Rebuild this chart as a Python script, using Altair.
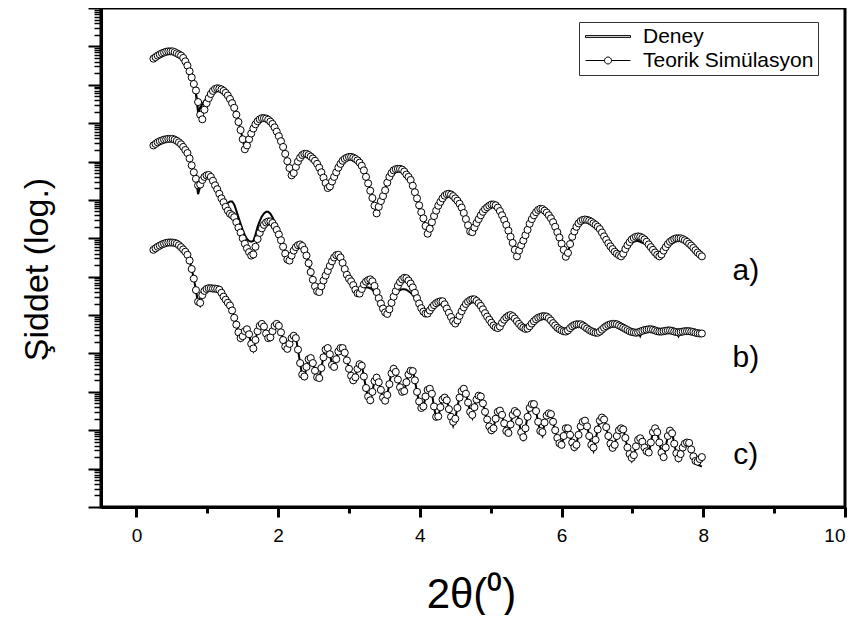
import altair as alt
import pandas as pd

# 2-theta scan grid (degrees), step 0.03
two_theta = [round(0.24 + 0.03 * i, 2) for i in range(259)]

# log10 intensity (arbitrary units, curves offset)
a_sim = [
    11.68, 11.72, 11.76, 11.79, 11.82, 11.84, 11.86, 11.87, 11.87, 11.87,
    11.85, 11.82, 11.79, 11.76, 11.70, 11.61, 11.50, 11.35, 11.19, 11.02,
    10.85, 10.55, 10.22, 10.10, 10.35, 10.52, 10.65, 10.76, 10.84, 10.89,
    10.91, 10.90, 10.88, 10.84, 10.79, 10.72, 10.63, 10.52, 10.40, 10.22,
    10.03, 9.82, 9.58, 9.32, 9.42, 9.58, 9.73, 9.86, 9.97, 10.05,
    10.10, 10.13, 10.13, 10.12, 10.09, 10.04, 9.98, 9.89, 9.78, 9.66,
    9.53, 9.38, 9.20, 9.01, 8.83, 8.64, 8.70, 8.86, 9.00, 9.10,
    9.17, 9.20, 9.20, 9.17, 9.13, 9.08, 9.02, 8.94, 8.84, 8.72,
    8.58, 8.44, 8.31, 8.35, 8.48, 8.60, 8.72, 8.84, 8.94, 9.02,
    9.07, 9.10, 9.12, 9.12, 9.10, 9.07, 9.03, 8.97, 8.89, 8.77,
    8.60, 8.43, 8.24, 8.05, 7.85, 7.65, 7.82, 7.97, 8.10, 8.25,
    8.45, 8.60, 8.70, 8.77, 8.80, 8.81, 8.81, 8.79, 8.74, 8.66,
    8.60, 8.52, 8.37, 8.20, 8.04, 7.86, 7.68, 7.52, 7.32, 7.12,
    7.25, 7.42, 7.58, 7.72, 7.85, 7.95, 8.04, 8.11, 8.15, 8.16,
    8.14, 8.10, 8.04, 7.98, 7.90, 7.80, 7.66, 7.50, 7.34, 7.18,
    7.16, 7.28, 7.40, 7.50, 7.60, 7.69, 7.76, 7.81, 7.85, 7.88,
    7.88, 7.86, 7.80, 7.71, 7.60, 7.48, 7.35, 7.20, 7.04, 6.88,
    6.70, 6.53, 6.68, 6.82, 6.94, 7.08, 7.22, 7.38, 7.50, 7.60,
    7.68, 7.74, 7.77, 7.76, 7.72, 7.67, 7.60, 7.52, 7.42, 7.30,
    7.16, 7.02, 6.86, 6.70, 6.52, 6.62, 6.85, 7.04, 7.18, 7.30,
    7.39, 7.45, 7.48, 7.49, 7.48, 7.46, 7.43, 7.39, 7.35, 7.30,
    7.24, 7.15, 7.05, 6.96, 6.87, 6.79, 6.72, 6.65, 6.60, 6.56,
    6.53, 6.60, 6.72, 6.82, 6.90, 6.97, 7.01, 7.04, 7.05, 7.04,
    7.01, 6.97, 6.91, 6.84, 6.77, 6.70, 6.63, 6.57, 6.53, 6.58,
    6.68, 6.77, 6.85, 6.91, 6.95, 6.98, 7.00, 7.00, 7.00, 6.98,
    6.95, 6.91, 6.86, 6.81, 6.75, 6.69, 6.63, 6.58, 6.53,
]
a_exp = [
    11.68, 11.72, 11.76, 11.79, 11.82, 11.84, 11.86, 11.87, 11.87, 11.87,
    11.85, 11.82, 11.79, 11.76, 11.70, 11.61, 11.50, 11.35, 11.19, 11.02,
    10.75, 10.28, 10.40, 10.50, 10.58, 10.64, 10.70, 10.78, 10.85, 10.89,
    10.91, 10.90, 10.88, 10.84, 10.79, 10.72, 10.63, 10.52, 10.40, 10.22,
    10.03, 9.82, 9.58, 9.32, 9.42, 9.58, 9.73, 9.86, 9.97, 10.05,
    10.10, 10.13, 10.13, 10.12, 10.09, 10.04, 9.98, 9.89, 9.78, 9.66,
    9.53, 9.38, 9.20, 9.01, 8.83, 8.64, 8.70, 8.86, 9.00, 9.10,
    9.17, 9.20, 9.20, 9.17, 9.13, 9.08, 9.02, 8.94, 8.84, 8.72,
    8.58, 8.44, 8.31, 8.35, 8.48, 8.60, 8.72, 8.84, 8.94, 9.02,
    9.07, 9.10, 9.12, 9.12, 9.10, 9.07, 9.03, 8.97, 8.89, 8.77,
    8.60, 8.43, 8.24, 8.05, 7.85, 7.65, 7.82, 7.97, 8.10, 8.25,
    8.45, 8.60, 8.70, 8.77, 8.80, 8.81, 8.81, 8.79, 8.74, 8.66,
    8.60, 8.52, 8.37, 8.20, 8.04, 7.86, 7.68, 7.52, 7.32, 7.12,
    7.25, 7.42, 7.58, 7.72, 7.85, 7.95, 8.04, 8.11, 8.15, 8.16,
    8.14, 8.10, 8.04, 7.98, 7.90, 7.80, 7.66, 7.50, 7.34, 7.18,
    7.16, 7.28, 7.40, 7.50, 7.60, 7.69, 7.76, 7.81, 7.85, 7.88,
    7.88, 7.86, 7.80, 7.71, 7.60, 7.48, 7.35, 7.20, 7.04, 6.88,
    6.70, 6.53, 6.68, 6.82, 6.94, 7.08, 7.22, 7.38, 7.50, 7.60,
    7.68, 7.74, 7.77, 7.76, 7.72, 7.67, 7.60, 7.52, 7.42, 7.30,
    7.16, 7.02, 6.86, 6.70, 6.52, 6.62, 6.85, 7.04, 7.18, 7.30,
    7.39, 7.45, 7.48, 7.49, 7.48, 7.46, 7.43, 7.39, 7.35, 7.30,
    7.24, 7.15, 7.05, 6.96, 6.87, 6.79, 6.72, 6.65, 6.60, 6.56,
    6.53, 6.60, 6.70, 6.78, 6.84, 6.88, 6.91, 6.93, 6.93, 6.91,
    6.88, 6.86, 6.84, 6.80, 6.74, 6.67, 6.61, 6.56, 6.53, 6.58,
    6.68, 6.77, 6.85, 6.91, 6.95, 6.98, 7.00, 7.00, 7.00, 6.98,
    6.95, 6.91, 6.86, 6.81, 6.75, 6.69, 6.63, 6.58, 6.53,
]
b_sim = [
    9.42, 9.46, 9.50, 9.53, 9.55, 9.57, 9.58, 9.59, 9.59, 9.59,
    9.57, 9.54, 9.50, 9.45, 9.38, 9.30, 9.22, 9.08, 8.90, 8.72,
    8.55, 8.38, 8.40, 8.52, 8.60, 8.64, 8.65, 8.60, 8.50, 8.38,
    8.28, 8.16, 8.04, 7.94, 7.82, 7.72, 7.64, 7.60, 7.55, 7.42,
    7.28, 7.15, 7.00, 6.86, 6.74, 6.64, 6.55, 6.58, 6.78, 6.98,
    7.14, 7.26, 7.35, 7.41, 7.44, 7.44, 7.40, 7.32, 7.22, 7.10,
    6.95, 6.78, 6.60, 6.45, 6.42, 6.55, 6.68, 6.77, 6.82, 6.84,
    6.80, 6.70, 6.55, 6.35, 6.12, 5.92, 5.75, 5.62, 5.60, 5.75,
    5.90, 6.03, 6.15, 6.28, 6.40, 6.50, 6.56, 6.57, 6.50, 6.36,
    6.20, 6.05, 5.95, 5.88, 5.78, 5.66, 5.57, 5.56, 5.68, 5.80,
    5.87, 5.91, 5.93, 5.88, 5.76, 5.60, 5.44, 5.30, 5.17, 5.07,
    5.03, 5.15, 5.32, 5.48, 5.62, 5.76, 5.86, 5.93, 5.97, 5.96,
    5.90, 5.82, 5.72, 5.58, 5.44, 5.30, 5.18, 5.09, 5.04, 5.04,
    5.12, 5.20, 5.26, 5.31, 5.34, 5.36, 5.36, 5.28, 5.17, 5.06,
    4.95, 4.84, 4.78, 4.86, 4.98, 5.10, 5.20, 5.29, 5.35, 5.39,
    5.41, 5.41, 5.37, 5.31, 5.24, 5.15, 5.05, 4.96, 4.88, 4.80,
    4.73, 4.68, 4.66, 4.70, 4.80, 4.88, 4.94, 4.98, 5.00, 4.97,
    4.91, 4.84, 4.77, 4.71, 4.67, 4.64, 4.65, 4.71, 4.78, 4.84,
    4.89, 4.93, 4.95, 4.97, 4.97, 4.96, 4.92, 4.86, 4.79, 4.73,
    4.67, 4.63, 4.60, 4.58, 4.57, 4.60, 4.66, 4.71, 4.74, 4.76,
    4.76, 4.76, 4.73, 4.69, 4.65, 4.61, 4.58, 4.56, 4.54, 4.54,
    4.57, 4.62, 4.67, 4.71, 4.74, 4.76, 4.77, 4.77, 4.76, 4.73,
    4.70, 4.67, 4.64, 4.61, 4.58, 4.56, 4.55, 4.54, 4.55, 4.57,
    4.59, 4.61, 4.62, 4.63, 4.63, 4.62, 4.60, 4.58, 4.57, 4.57,
    4.58, 4.59, 4.60, 4.60, 4.59, 4.57, 4.56, 4.55, 4.56, 4.57,
    4.58, 4.58, 4.58, 4.57, 4.56, 4.54, 4.53, 4.52, 4.52,
]
b_exp = [
    9.42, 9.46, 9.50, 9.53, 9.55, 9.57, 9.58, 9.59, 9.59, 9.59,
    9.57, 9.54, 9.50, 9.45, 9.38, 9.30, 9.22, 9.08, 8.90, 8.72,
    8.55, 8.15, 8.35, 8.52, 8.60, 8.64, 8.65, 8.60, 8.50, 8.38,
    8.28, 8.16, 8.06, 7.98, 7.93, 7.92, 7.96, 7.96, 7.88, 7.72,
    7.55, 7.38, 7.22, 7.08, 6.98, 6.93, 6.91, 6.93, 7.10, 7.30,
    7.45, 7.57, 7.65, 7.69, 7.69, 7.64, 7.55, 7.43, 7.30, 7.15,
    6.98, 6.80, 6.62, 6.46, 6.42, 6.55, 6.68, 6.77, 6.82, 6.84,
    6.80, 6.70, 6.55, 6.35, 6.12, 5.92, 5.75, 5.62, 5.60, 5.75,
    5.90, 6.03, 6.15, 6.28, 6.40, 6.50, 6.56, 6.57, 6.50, 6.36,
    6.20, 6.05, 5.95, 5.88, 5.78, 5.66, 5.57, 5.56, 5.64, 5.70,
    5.72, 5.72, 5.70, 5.66, 5.60, 5.52, 5.42, 5.30, 5.17, 5.07,
    5.03, 5.15, 5.30, 5.42, 5.52, 5.60, 5.65, 5.67, 5.67, 5.66,
    5.62, 5.58, 5.52, 5.45, 5.38, 5.28, 5.18, 5.09, 5.04, 5.04,
    5.12, 5.20, 5.26, 5.31, 5.34, 5.36, 5.36, 5.28, 5.17, 5.06,
    4.95, 4.84, 4.78, 4.86, 4.98, 5.10, 5.20, 5.29, 5.35, 5.39,
    5.41, 5.41, 5.37, 5.31, 5.24, 5.15, 5.05, 4.96, 4.88, 4.80,
    4.73, 4.68, 4.66, 4.70, 4.80, 4.88, 4.94, 4.98, 5.00, 4.97,
    4.91, 4.84, 4.77, 4.71, 4.67, 4.64, 4.65, 4.71, 4.78, 4.84,
    4.89, 4.93, 4.95, 4.97, 4.97, 4.96, 4.92, 4.86, 4.79, 4.73,
    4.67, 4.63, 4.60, 4.58, 4.57, 4.60, 4.66, 4.71, 4.74, 4.76,
    4.76, 4.76, 4.73, 4.69, 4.65, 4.61, 4.58, 4.56, 4.54, 4.54,
    4.57, 4.62, 4.67, 4.71, 4.74, 4.76, 4.77, 4.77, 4.76, 4.73,
    4.70, 4.67, 4.64, 4.61, 4.58, 4.56, 4.55, 4.54, 4.55, 4.45,
    4.59, 4.61, 4.62, 4.63, 4.63, 4.62, 4.60, 4.58, 4.57, 4.57,
    4.58, 4.59, 4.60, 4.60, 4.59, 4.57, 4.56, 4.45, 4.56, 4.57,
    4.58, 4.58, 4.58, 4.57, 4.56, 4.54, 4.53, 4.52, 4.52,
]
c_sim = [
    6.70, 6.74, 6.78, 6.81, 6.84, 6.86, 6.88, 6.89, 6.89, 6.89,
    6.88, 6.86, 6.82, 6.77, 6.71, 6.65, 6.57, 6.42, 6.20, 5.95,
    5.65, 5.35, 5.32, 5.52, 5.63, 5.68, 5.70, 5.70, 5.69, 5.69,
    5.68, 5.66, 5.58, 5.48, 5.40, 5.32, 5.25, 5.12, 4.93, 4.75,
    4.55, 4.40, 4.45, 4.58, 4.63, 4.50, 4.25, 4.13, 4.35, 4.58,
    4.72, 4.77, 4.70, 4.52, 4.40, 4.42, 4.58, 4.72, 4.77, 4.72,
    4.55, 4.35, 4.18, 4.12, 4.25, 4.40, 4.46, 4.40, 4.10, 3.75,
    3.45, 3.40, 3.65, 3.85, 3.88, 3.75, 3.55, 3.38, 3.36, 3.62,
    3.90, 4.10, 4.14, 3.98, 3.70, 3.65, 3.85, 4.05, 4.14, 4.14,
    4.02, 3.82, 3.60, 3.42, 3.30, 3.38, 3.60, 3.72, 3.68, 3.40,
    3.10, 2.88, 2.78, 3.00, 3.28, 3.37, 3.25, 3.05, 2.85, 2.77,
    2.92, 3.20, 3.48, 3.60, 3.52, 3.32, 3.12, 3.00, 3.02, 3.25,
    3.45, 3.55, 3.54, 3.30, 3.00, 2.75, 2.58, 2.62, 2.88, 3.05,
    3.08, 2.95, 2.62, 2.35, 2.36, 2.60, 2.80, 2.85, 2.78, 2.55,
    2.35, 2.22, 2.30, 2.58, 2.85, 3.02, 3.08, 2.95, 2.72, 2.48,
    2.40, 2.60, 2.80, 2.90, 2.88, 2.70, 2.48, 2.28, 2.10, 2.00,
    2.05, 2.30, 2.48, 2.51, 2.40, 2.18, 1.98, 1.93, 2.15, 2.40,
    2.50, 2.45, 2.22, 1.95, 1.82, 2.05, 2.35, 2.58, 2.68, 2.68,
    2.50, 2.22, 1.98, 1.95, 2.20, 2.38, 2.44, 2.42, 2.22, 2.00,
    1.80, 1.66, 1.62, 1.85, 2.05, 2.05, 1.88, 1.68, 1.56, 1.62,
    1.88, 2.10, 2.22, 2.25, 2.10, 1.85, 1.62, 1.55, 1.75, 2.02,
    2.25, 2.33, 2.28, 2.08, 1.85, 1.65, 1.54, 1.62, 1.85, 2.00,
    2.05, 2.02, 1.80, 1.55, 1.38, 1.28, 1.35, 1.58, 1.75, 1.79,
    1.70, 1.55, 1.45, 1.42, 1.68, 1.95, 2.05, 1.95, 1.68, 1.42,
    1.30, 1.55, 1.85, 1.99, 1.92, 1.65, 1.40, 1.27, 1.38, 1.55,
    1.65, 1.68, 1.67, 1.50, 1.32, 1.20, 1.18, 1.25, 1.30,
]
c_exp = [
    6.70, 6.74, 6.78, 6.81, 6.84, 6.86, 6.88, 6.89, 6.89, 6.89,
    6.88, 6.86, 6.82, 6.77, 6.71, 6.65, 6.57, 6.42, 6.20, 5.95,
    5.65, 5.30, 5.24, 5.52, 5.63, 5.68, 5.70, 5.70, 5.69, 5.69,
    5.68, 5.66, 5.58, 5.48, 5.40, 5.32, 5.25, 5.12, 4.93, 4.75,
    4.55, 4.35, 4.45, 4.60, 4.66, 4.50, 4.22, 4.08, 4.35, 4.60,
    4.75, 4.82, 4.72, 4.52, 4.36, 4.42, 4.60, 4.76, 4.82, 4.74,
    4.55, 4.35, 4.15, 4.08, 4.25, 4.42, 4.50, 4.42, 4.10, 3.75,
    3.42, 3.35, 3.65, 3.88, 3.93, 3.78, 3.55, 3.35, 3.32, 3.62,
    3.92, 4.15, 4.20, 4.00, 3.70, 3.62, 3.85, 4.08, 4.20, 4.18,
    4.04, 3.82, 3.60, 3.40, 3.26, 3.38, 3.62, 3.78, 3.72, 3.40,
    3.08, 2.85, 2.74, 3.00, 3.30, 3.42, 3.28, 3.05, 2.83, 2.73,
    2.92, 3.22, 3.52, 3.66, 3.56, 3.32, 3.10, 2.96, 3.00, 3.25,
    3.48, 3.60, 3.58, 3.30, 2.98, 2.72, 2.54, 2.60, 2.88, 3.10,
    3.13, 2.97, 2.60, 2.30, 2.34, 2.60, 2.84, 2.90, 2.80, 2.55,
    2.33, 2.12, 2.30, 2.60, 2.88, 3.06, 3.12, 2.97, 2.72, 2.46,
    2.32, 2.60, 2.82, 2.94, 2.90, 2.70, 2.46, 2.26, 2.06, 1.94,
    2.05, 2.32, 2.52, 2.55, 2.42, 2.16, 1.95, 1.88, 2.15, 2.42,
    2.54, 2.48, 2.22, 1.90, 1.72, 2.05, 2.37, 2.62, 2.72, 2.70,
    2.50, 2.20, 1.95, 1.85, 2.20, 2.40, 2.48, 2.45, 2.22, 1.98,
    1.78, 1.62, 1.57, 1.85, 2.08, 2.08, 1.88, 1.66, 1.50, 1.62,
    1.90, 2.13, 2.26, 2.28, 2.12, 1.85, 1.60, 1.46, 1.75, 2.04,
    2.28, 2.37, 2.30, 2.08, 1.83, 1.62, 1.49, 1.62, 1.87, 2.03,
    2.08, 2.04, 1.80, 1.53, 1.33, 1.20, 1.35, 1.60, 1.78, 1.82,
    1.72, 1.55, 1.43, 1.38, 1.68, 1.98, 2.08, 1.97, 1.68, 1.40,
    1.22, 1.55, 1.88, 2.02, 1.94, 1.65, 1.38, 1.22, 1.38, 1.57,
    1.68, 1.71, 1.69, 1.50, 1.30, 1.15, 1.10, 1.08, 1.05,
]

curve_names = ["a)", "b)", "c)"]
label_x = [8.6, 8.6, 8.6]
label_log = [6.14, 3.89, 1.35]
legend_names = ["Deney", "Teorik Simülasyon"]

FONT = "Liberation Sans"

rows_sim, rows_exp = [], []
for name, sim, exp in zip(curve_names, [a_sim, b_sim, c_sim], [a_exp, b_exp, c_exp]):
    for x, s, e in zip(two_theta, sim, exp):
        rows_sim.append({"x": x, "y": 10 ** s, "curve": name})
        rows_exp.append({"x": x, "y": 10 ** e, "curve": name})
df_sim = pd.DataFrame(rows_sim)
df_exp = pd.DataFrame(rows_exp)
df_lab = pd.DataFrame({"x": label_x, "y": [10 ** v for v in label_log], "t": curve_names})
df_leg = pd.DataFrame({"s": legend_names})

xscale = alt.Scale(domain=[-0.5, 10], nice=False, zero=False)
yscale = alt.Scale(type="log", domain=[1, 1e13], nice=False)

major_y = [10 ** n for n in range(0, 14)]
minor_y = [k * 10 ** n for n in range(0, 13) for k in range(2, 10)]

x_main_axis = alt.Axis(
    values=[0, 2, 4, 6, 8, 10], format="d", tickSize=10, tickWidth=3,
    labelFontSize=19, labelFont=FONT, labelPadding=9, labelColor="black",
    domainWidth=3, domainColor="black", tickColor="black", grid=False,
    title="2θ(⁰)", titleFont=FONT, titleFontSize=42, titleFontWeight="normal",
    titleX=370, titleY=100, titleBaseline="alphabetic", titleColor="black",
)
y_main_axis = alt.Axis(
    values=major_y, labels=False, tickSize=13, tickWidth=2, tickColor="black",
    domainWidth=3, domainColor="black", grid=False,
    title="Şiddet (log.)", titleFont=FONT, titleFontSize=34, titleFontWeight="normal",
    titleX=-54, titleY=261, titleAngle=270, titleAlign="center",
    titleBaseline="alphabetic", titleColor="black",
)
x_minor_axis = alt.Axis(
    orient="bottom", values=[1, 3, 5, 7, 9], labels=False, tickSize=6, tickWidth=3,
    tickColor="black", domain=False, grid=False, title=None,
)
y_minor_axis = alt.Axis(
    orient="left", values=minor_y, labels=False, tickSize=7, tickWidth=1.5,
    tickColor="black", domain=False, grid=False, title=None,
)

exp_line = alt.Chart(df_exp).mark_line(color="black", strokeWidth=2).encode(
    x=alt.X("x:Q", scale=xscale, axis=x_main_axis),
    y=alt.Y("y:Q", scale=yscale, axis=y_main_axis),
    detail="curve:N",
)
sim_line = alt.Chart(df_sim).mark_line(color="black", strokeWidth=0.8).encode(
    x=alt.X("x:Q", scale=xscale, axis=None),
    y=alt.Y("y:Q", scale=yscale, axis=None),
    detail="curve:N",
)
sim_pts = alt.Chart(df_sim).mark_point(
    shape="circle", filled=True, fill="white", stroke="black", strokeWidth=1,
    size=50, opacity=1,
).encode(
    x=alt.X("x:Q", scale=xscale, axis=None),
    y=alt.Y("y:Q", scale=yscale, axis=None),
)
labels = alt.Chart(df_lab).mark_text(
    font=FONT, fontSize=30, color="black", align="center", baseline="middle"
).encode(
    x=alt.X("x:Q", scale=xscale, axis=x_minor_axis),
    y=alt.Y("y:Q", scale=yscale, axis=y_minor_axis),
    text="t:N",
)

# legend symbols (unit = 8 px): a thick line, and a line with an open circle
path_line = "M-1,-0.11L4.625,-0.11L4.625,0.11L-1,0.11Z"
path_circ = ("M-1,0L1.375,0M2.25,0L4.625,0"
             "M2.25,0A0.4375,0.4375,0,1,1,1.375,0A0.4375,0.4375,0,1,1,2.25,0Z")

# legend-only layer: its points sit outside the clipped plot area
legend_layer = alt.Chart(df_leg).mark_point(
    filled=False, stroke="black", color="black", strokeWidth=1, size=64,
    clip=True, opacity=1,
).encode(
    x=alt.value(-60),
    y=alt.value(-60),
    shape=alt.Shape(
        "s:N",
        scale=alt.Scale(domain=legend_names, range=[path_line, path_circ]),
        legend=alt.Legend(
            title=None, orient="none", legendX=478, legendY=14,
            fillColor="white", strokeColor="#333333", padding=4,
            symbolSize=256, symbolStrokeColor="black", symbolStrokeWidth=1,
            symbolOpacity=1,
            labelFont=FONT, labelFontSize=21, labelColor="black",
            labelOffset=39, rowPadding=2, labelLimit=400,
        ),
    ),
)

chart = alt.layer(exp_line, sim_line, sim_pts, labels, legend_layer).resolve_axis(
    x="independent", y="independent"
).properties(
    width=744, height=499, autosize="none",
    padding={"left": 93, "top": 0, "right": 9, "bottom": 108},
).configure_view(stroke="black", strokeWidth=3)

chart.save("out.html", embed_options={"renderer": "svg", "actions": False})
